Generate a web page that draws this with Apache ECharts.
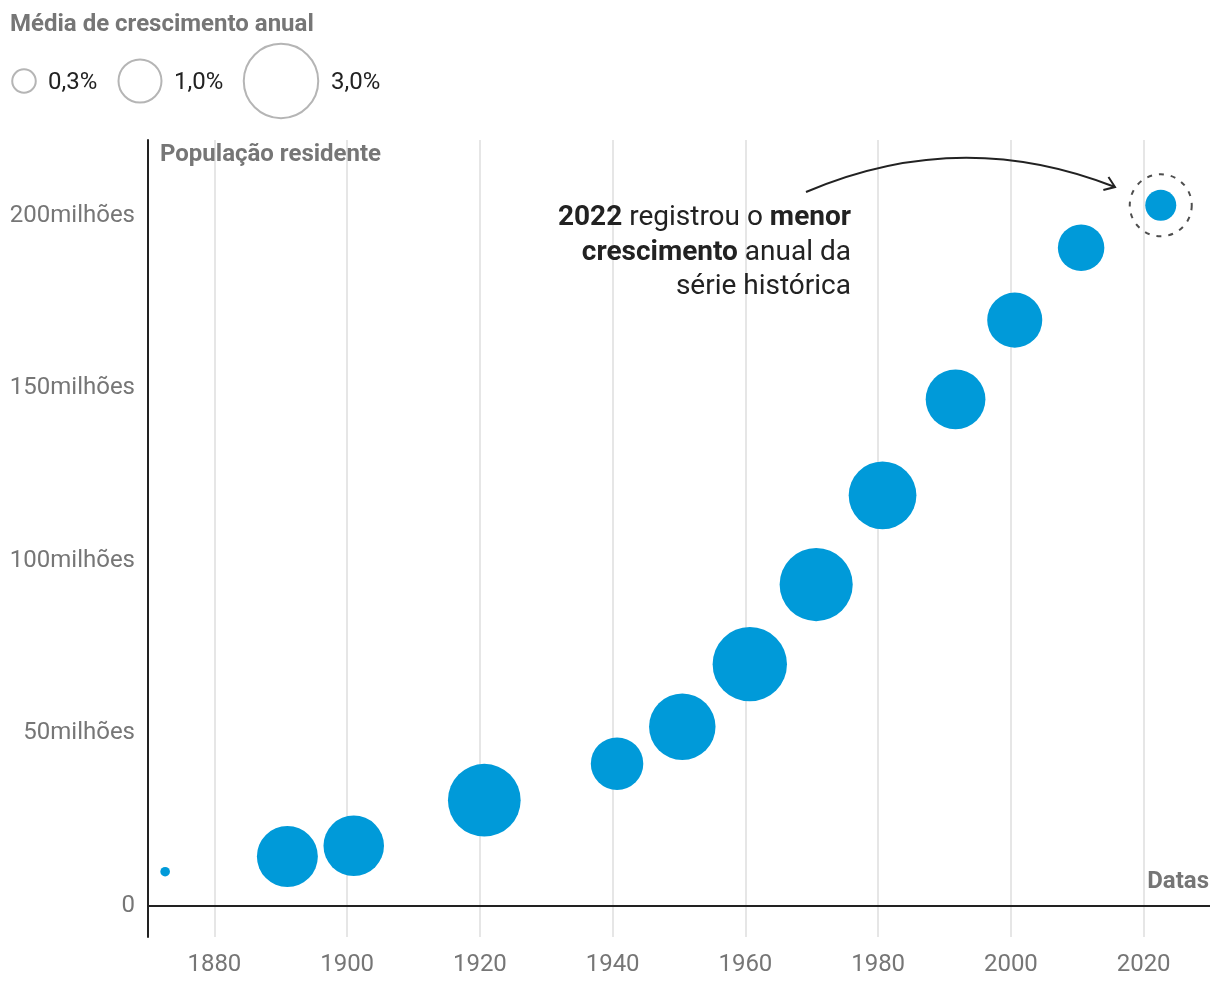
<!DOCTYPE html>
<html>
<head>
<meta charset="utf-8">
<script src="https://cdn.jsdelivr.net/npm/echarts@6/dist/echarts.min.js"></script>
<style>html,body{margin:0;padding:0;background:#fff}#c{width:1220px;height:1008px}</style>
</head>
<body>
<div id="c"></div>
<script>
// Census dates, population (millions) and average annual growth (%)
const censusDates = ['1872-08-01','1890-12-31','1900-12-31','1920-09-01','1940-09-01','1950-07-01','1960-09-01','1970-09-01','1980-09-01','1991-09-01','2000-08-01','2010-08-01','2022-08-01'];
const population = [9.93, 14.33, 17.44, 30.64, 41.24, 51.94, 70.07, 93.14, 119.0, 146.83, 169.8, 190.76, 203.08];
const growthRate = [0.05, 2.01, 1.98, 2.86, 1.49, 2.39, 2.99, 2.89, 2.48, 1.93, 1.64, 1.17, 0.52];
const xTickYears = [1880, 1900, 1920, 1940, 1960, 1980, 2000, 2020];
const yTickValues = [0, 50, 100, 150, 200];
const legendRates = [0.3, 1.0, 3.0];
const legendLabels = ['0,3%', '1,0%', '3,0%'];
const highlightIndex = 12;

const SIZE_K = 43;
const sizeOf = r => SIZE_K * Math.sqrt(r);
function fracYear(s) {
  const d = new Date(s + 'T00:00:00Z');
  const y = d.getUTCFullYear();
  const start = Date.UTC(y, 0, 1), end = Date.UTC(y + 1, 0, 1);
  return y + (d.getTime() - start) / (end - start);
}
const points = censusDates.map((d, i) => [fracYear(d), population[i], growthRate[i]]);

const FONT = 'Roboto';
const GRAY = '#767676';
const INK = '#222222';
const BLUE = '#009ad9';
const FS = 24;

const chart = echarts.init(document.getElementById('c'), null, {renderer: 'canvas'});

// legend graphics
const legendX = [24, 140, 281];
const legendTextX = [48, 174, 331];
const legendGraphics = [];
legendRates.forEach((r, i) => {
  legendGraphics.push({
    type: 'circle', z: 10, shape: {cx: legendX[i], cy: 81, r: sizeOf(r) / 2},
    style: {fill: 'none', stroke: '#b5b5b5', lineWidth: 2}
  });
  legendGraphics.push({
    type: 'text', z: 10, x: legendTextX[i], y: 83,
    style: {text: legendLabels[i], font: FS + 'px ' + FONT, fill: INK, verticalAlign: 'middle'}
  });
});

// arrow
const ax1 = 806, ay1 = 192, acx = 960, acy = 126, ax2 = 1115, ay2 = 187;
const ang = Math.atan2(ay2 - acy, ax2 - acx);
const armL = 12, armA = 0.62;
const arm1 = [ax2 - armL * Math.cos(ang - armA), ay2 - armL * Math.sin(ang - armA)];
const arm2 = [ax2 - armL * Math.cos(ang + armA), ay2 - armL * Math.sin(ang + armA)];

chart.setOption({
  animation: false,
  grid: {left: 148, right: 10, top: 140, bottom: 71, containLabel: false},
  xAxis: {
    type: 'value', min: 1870, max: 2030, interval: 10,
    axisLine: {show: false}, axisTick: {show: false}, splitLine: {show: false},
    axisLabel: {
      margin: 16, color: GRAY, fontFamily: FONT, fontSize: FS,
      formatter: v => (xTickYears.indexOf(v) >= 0 ? String(v) : '')
    }
  },
  yAxis: {
    type: 'value', min: -9, max: 222, interval: 1,
    axisLine: {show: true, onZero: false, lineStyle: {color: INK, width: 2}},
    axisTick: {show: false}, splitLine: {show: false},
    axisLabel: {
      margin: 13, color: GRAY, fontFamily: FONT, fontSize: FS, padding: [5, 0, 0, 0],
      formatter: v => (yTickValues.indexOf(v) >= 0 ? (v === 0 ? '0' : v + 'milhões') : '')
    }
  },
  series: [
    {
      type: 'line', data: [], z: 1, silent: true,
      markLine: {
        silent: true, symbol: 'none', label: {show: false}, z: 0,
        lineStyle: {color: '#e6e6e6', width: 2, type: 'solid'},
        data: xTickYears.map(y => ({xAxis: y}))
      }
    },
    {
      type: 'scatter', z: 3, data: points,
      symbolSize: v => sizeOf(v[2]),
      itemStyle: {color: BLUE, opacity: 1},
      markLine: {
        silent: true, symbol: 'none', label: {show: false}, z: 5,
        lineStyle: {color: INK, width: 2, type: 'solid'},
        data: [{yAxis: 0}]
      }
    },
    {
      type: 'scatter', z: 4, silent: true,
      data: [points[highlightIndex]],
      symbolSize: 62,
      itemStyle: {color: 'rgba(0,0,0,0)', borderColor: INK, borderWidth: 2, borderType: [5, 7]}
    }
  ],
  graphic: [
    {type: 'text', z: 10, x: 10, y: 25, style: {text: 'Média de crescimento anual', font: 'bold ' + FS + 'px ' + FONT, fill: GRAY, verticalAlign: 'middle'}},
    ...legendGraphics,
    {type: 'text', z: 10, x: 160, y: 155, style: {text: 'População residente', font: 'bold ' + FS + 'px ' + FONT, fill: GRAY, verticalAlign: 'middle'}},
    {type: 'text', z: 10, x: 1209, y: 882, style: {text: 'Datas', font: 'bold ' + FS + 'px ' + FONT, fill: GRAY, align: 'right', verticalAlign: 'middle'}},
    {
      type: 'text', z: 10, x: 851, y: 201,
      style: {
        text: '{b|2022} registrou o {b|menor}\n{b|crescimento} anual da\nsérie histórica',
        align: 'right', verticalAlign: 'top',
        font: '28px ' + FONT, fill: INK, lineHeight: 34.5,
        rich: {b: {fontWeight: 'bold', fontFamily: FONT, fontSize: 28, fill: INK, lineHeight: 34.5}}
      }
    },
    {type: 'bezierCurve', z: 10, shape: {x1: ax1, y1: ay1, cpx1: acx, cpy1: acy, x2: ax2, y2: ay2},
     style: {stroke: INK, lineWidth: 2, fill: 'none'}},
    {type: 'polyline', z: 10, shape: {points: [arm1, [ax2, ay2], arm2]},
     style: {stroke: INK, lineWidth: 2, fill: 'none'}}
  ]
});
</script>
</body>
</html>
